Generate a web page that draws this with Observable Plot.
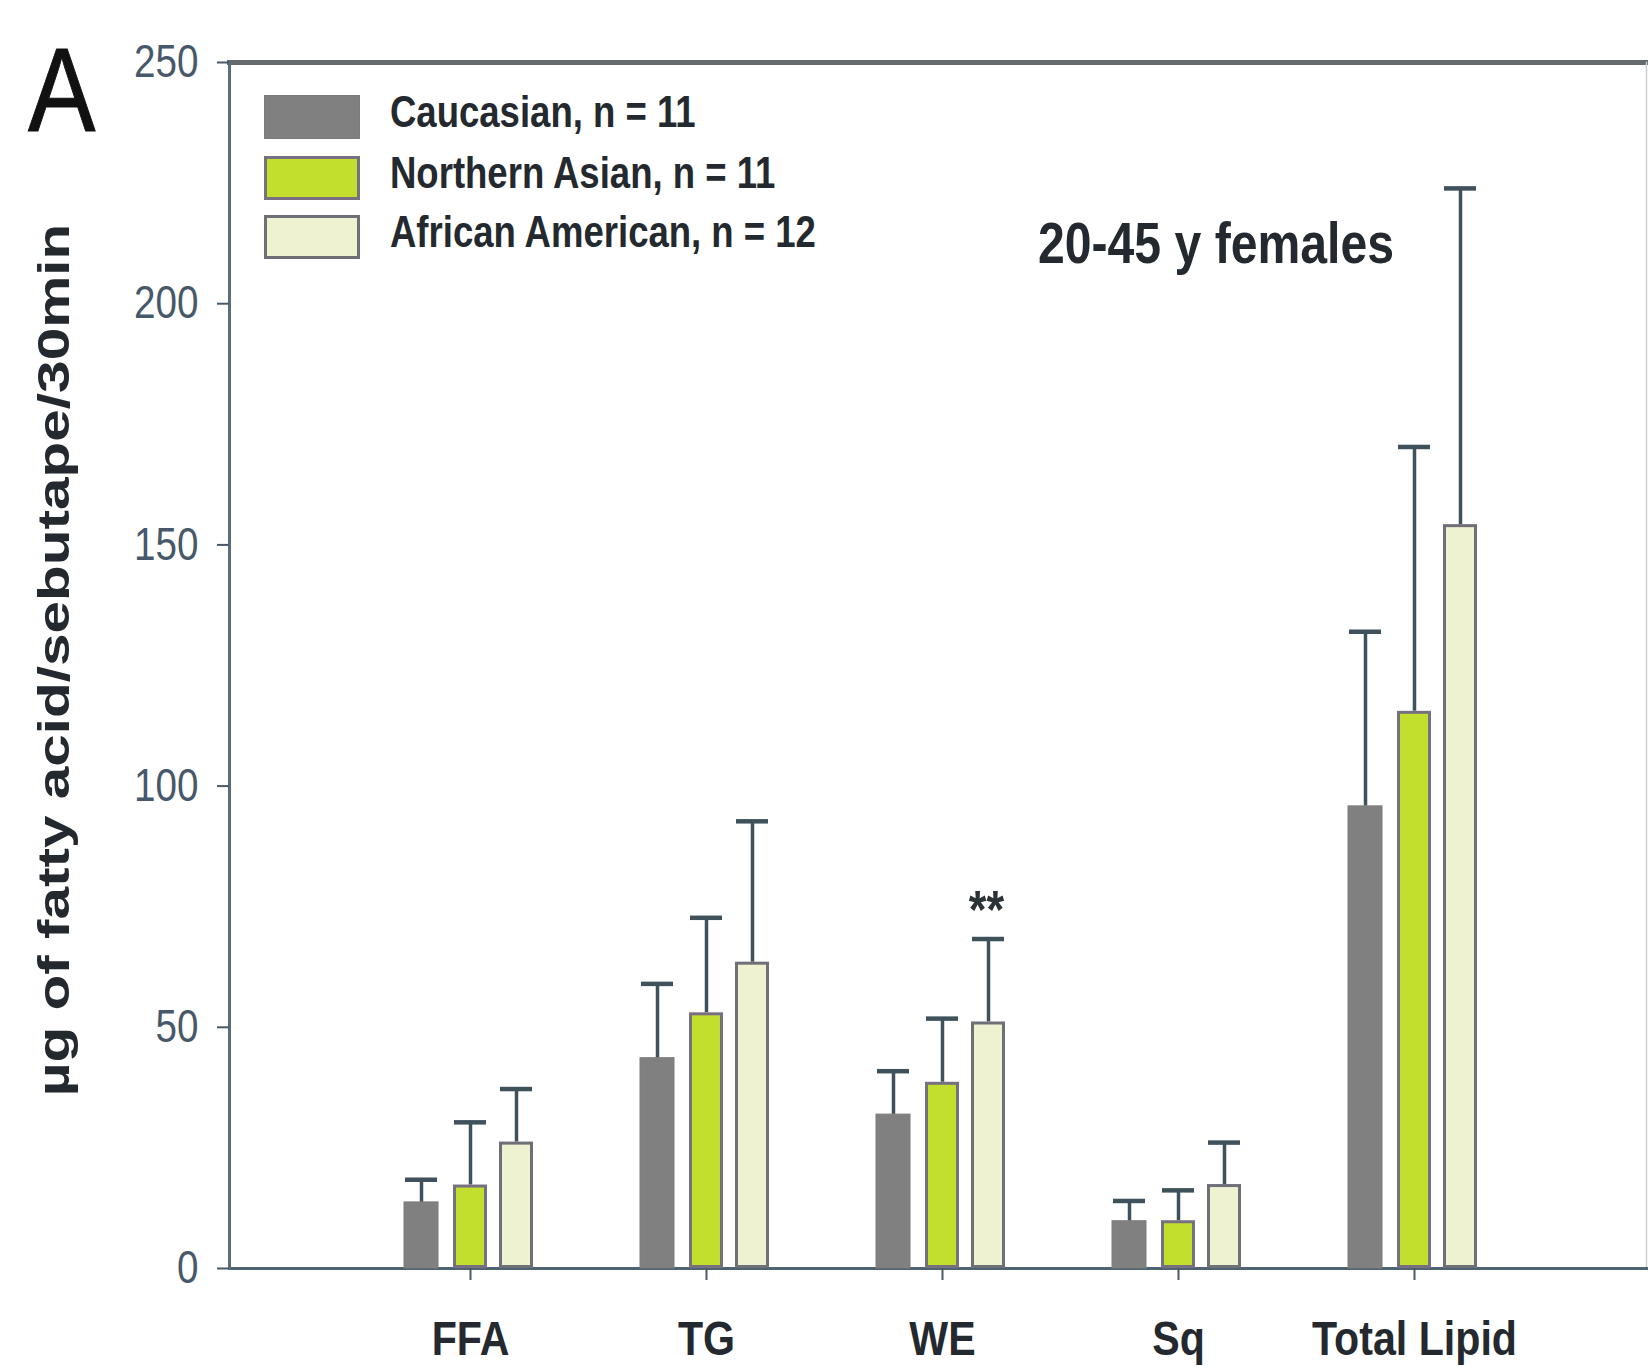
<!DOCTYPE html>
<html>
<head>
<meta charset="utf-8">
<script src="https://cdn.jsdelivr.net/npm/d3@7"></script>
<script src="https://cdn.jsdelivr.net/npm/@observablehq/plot@0.6"></script>
<style>
  html, body { margin: 0; padding: 0; background: #fff; }
  #wrap { position: relative; width: 1648px; height: 1367px; overflow: hidden; background: #fff; }
  #wrap svg { position: absolute; left: 0; top: 0; }
  .ov { position: absolute; white-space: nowrap; line-height: 1; font-family: "Liberation Sans", Arial, sans-serif; }
  #panel { left: 28px; top: 30px; font-size: 119px; color: #111; transform: scaleX(0.85); transform-origin: left top; -webkit-text-stroke: 1px #111; }
  #title { left: 1216px; top: 215px; transform: translateX(-50%) scaleX(0.845); font-size: 57px; font-weight: bold; color: #23292e; }
  #ylabel { left: 53px; top: 660px; transform: translate(-50%, -50%) rotate(-90deg) scaleX(1.3);
            font-size: 45px; font-weight: bold; color: #23292e; }
  .sw { position: absolute; left: 264px; width: 96px; height: 44px; box-sizing: border-box; }
  .lt { left: 390px; font-size: 44px; font-weight: bold; color: #23292e; transform: scaleX(0.83); transform-origin: left top; }
</style>
</head>
<body>
<div id="wrap"></div>
<script>
// ---- data ----
const categories = ["FFA", "TG", "WE", "Sq", "Total Lipid"];
const seriesNames = ["Caucasian, n = 11", "Northern Asian, n = 11", "African American, n = 12"];
const caucasianMean = [13.7, 43.6, 31.9, 9.8, 95.8];
const caucasianSD   = [4.7, 15.4, 9.0, 4.2, 36.2];
const asianMean     = [17.3, 53.0, 38.6, 9.9, 115.5];
const asianSD       = [13.0, 19.7, 13.2, 6.3, 54.8];
const africanMean   = [26.2, 63.5, 51.1, 17.4, 154.2];
const africanSD     = [11.0, 29.2, 17.2, 8.7, 69.7];
const yTicks = [0, 50, 100, 150, 200, 250];
const titleText = "20-45 y females";
const panelLabel = "A";
const yLabel = "µg of fatty acid/sebutape/30min";
const significance = [{category: "WE", series: "African American, n = 12", label: "**"}];

// ---- styling ----
const seriesFill = ["#808080", "#c2df2d", "#eef2d1"];
const seriesStroke = ["#7c7c7c", "#777080", "#6f6f77"];
const seriesDx = [-49, 0, 46];
const errColor = "#3f525c";
const font = '"Liberation Sans", Arial, sans-serif';
const textSquash = 0.84;

const means = [caucasianMean, asianMean, africanMean];
const sds = [caucasianSD, asianSD, africanSD];
const rowsBySeries = seriesNames.map((s, si) =>
  categories.map((c, ci) => ({category: c, series: s, mean: means[si][ci], sd: sds[si][ci]}))
);

const marks = [
  Plot.frame({anchor: "top", stroke: "#66696d", strokeWidth: 5}),
  Plot.frame({anchor: "right", stroke: "#c9ced2", strokeWidth: 1.5}),
  Plot.frame({anchor: "bottom", stroke: "#4f6470", strokeWidth: 3}),
  Plot.frame({anchor: "left", stroke: "#5a6e7a", strokeWidth: 3}),
  Plot.axisY({ticks: yTicks, tickSize: 12, tickPadding: 19, fontSize: 46, color: "#46586a",
              fontFamily: font, label: null, strokeWidth: 2}),
  Plot.axisX({tickSize: 12, tickPadding: 40, fontSize: 49, fontWeight: "bold", fill: "#23292e",
              stroke: "#4a5a66", strokeWidth: 2, fontFamily: font, label: null})
];
rowsBySeries.forEach((rows, si) => {
  marks.push(
    Plot.ruleX(rows, {x: "category", y1: "mean", y2: d => d.mean + d.sd, stroke: errColor, strokeWidth: 3.5, dx: seriesDx[si]}),
    Plot.barY(rows, {x: "category", y: "mean", fill: "series", stroke: seriesStroke[si], strokeWidth: si === 0 ? 1 : 3,
                     inset: si === 0 ? 0 : 1.5, dx: seriesDx[si]}),
    Plot.tickY(rows, {x: "category", y: d => d.mean + d.sd, stroke: errColor, strokeWidth: 4.5,
                      insetLeft: 1, insetRight: 1, dx: seriesDx[si]})
  );
});
significance.forEach(a => {
  const si = seriesNames.indexOf(a.series);
  const ci = categories.indexOf(a.category);
  marks.push(Plot.text([{category: a.category, y: means[si][ci] + sds[si][ci], label: a.label}],
    {x: "category", y: "y", text: "label", dx: seriesDx[si] - 2, dy: -28, fontSize: 54, fontWeight: "bold",
     fill: "#2b3238", fontFamily: font}));
});

const chart = Plot.plot({
  width: 1648, height: 1367,
  marginLeft: 229, marginRight: 2, marginTop: 62, marginBottom: 99,
  x: {domain: categories, paddingInner: 0.856, paddingOuter: 0.93, align: 0.51, label: null},
  y: {domain: [0, 250], label: null},
  color: {domain: seriesNames, range: seriesFill},
  style: {fontFamily: font, background: "transparent", overflow: "visible"},
  marks
});

// squash all SVG texts horizontally (the source figure uses a condensed face)
d3.select(chart).selectAll("text").each(function () {
  const t = d3.select(this);
  let tr = t.attr("transform");
  if (!tr) {
    const x = +t.attr("x") || 0, y = +t.attr("y") || 0;
    t.attr("x", null).attr("y", null);
    tr = `translate(${x},${y})`;
  }
  t.attr("transform", `${tr} scale(${textSquash},1)`);
});

const wrap = document.getElementById("wrap");
wrap.appendChild(chart);

function addDiv(id, cls, text, style) {
  const d = document.createElement("div");
  if (id) d.id = id;
  d.className = cls;
  d.textContent = text;
  if (style) Object.assign(d.style, style);
  wrap.appendChild(d);
  return d;
}
addDiv("panel", "ov", panelLabel);
addDiv("title", "ov", titleText);
addDiv("ylabel", "ov", yLabel);

const swatchTops = [95, 156, 215];
seriesNames.forEach((s, i) => {
  const sw = document.createElement("div");
  sw.className = "sw";
  sw.style.top = swatchTops[i] + "px";
  sw.style.background = seriesFill[i];
  sw.style.border = i === 0 ? "1px solid " + seriesStroke[0] : "3px solid " + seriesStroke[i];
  wrap.appendChild(sw);
  addDiv(null, "ov lt", s, {top: (swatchTops[i] - 5) + "px"});
});
</script>
</body>
</html>
